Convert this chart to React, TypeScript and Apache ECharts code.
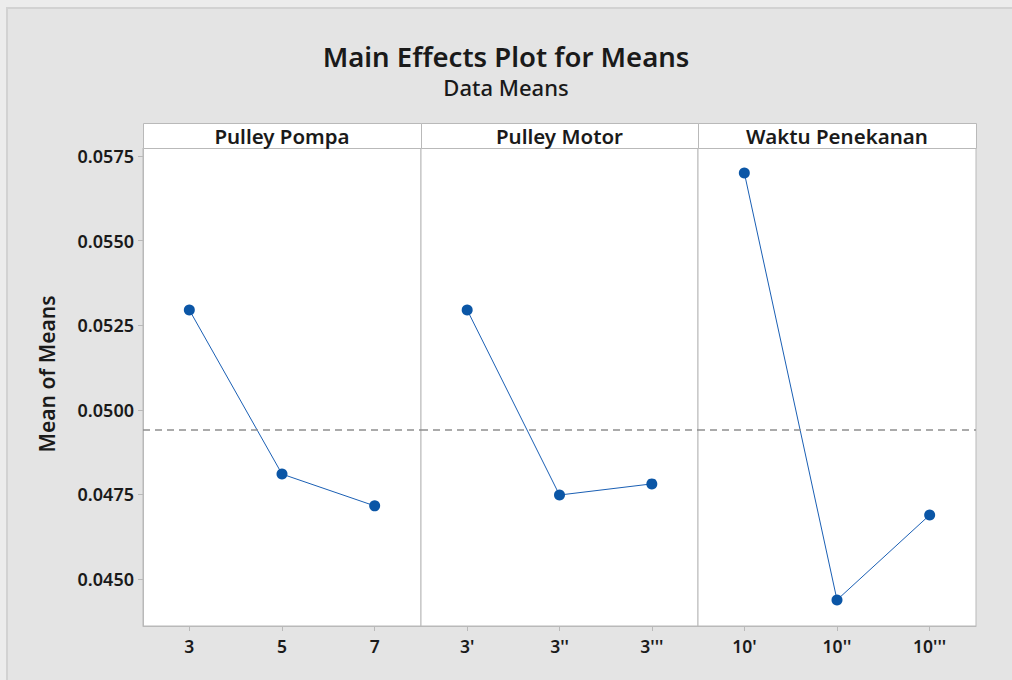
import React, { useEffect, useRef } from "react";
import * as echarts from "echarts";

const factors = ["Pulley Pompa", "Pulley Motor", "Waktu Penekanan"];
const pompaLevels = ["3", "5", "7"];
const motorLevels = ["3'", "3''", "3'''"];
const waktuLevels = ["10'", "10''", "10'''"];
const pompaMeans = [0.05295, 0.0481, 0.04716];
const motorMeans = [0.05295, 0.04748, 0.04781];
const waktuMeans = [0.057, 0.04438, 0.04689];
const yTicks = [0.045, 0.0475, 0.05, 0.0525, 0.055, 0.0575];
const yMin = 0.04361;
const yMax = 0.057736;

const FONT = "Noto Sans";
const TXT = "#1a1a1a";
const BORDER = "#b9b9b9";
const BLUE = "#0b56a6";

export default function App() {
  const ref = useRef<HTMLDivElement>(null);
  useEffect(() => {
    if (!ref.current) return;
    const chart = echarts.init(ref.current, undefined, { renderer: "svg" });
    const levels = [pompaLevels, motorLevels, waktuLevels];
    const means = [pompaMeans, motorMeans, waktuMeans];
    const all = [...pompaMeans, ...motorMeans, ...waktuMeans];
    const grand = all.reduce((a, b) => a + b, 0) / all.length;
    const panels = [
      { left: 143, width: 278 },
      { left: 421, width: 277 },
      { left: 698, width: 278 },
    ];
    const top = 148;
    const height = 478;
    const grids = panels.map((p) => ({
      left: p.left,
      width: p.width,
      top,
      height,
      show: true,
      backgroundColor: "#ffffff",
      borderColor: BORDER,
      borderWidth: 1,
    }));
    const xAxes = levels.map((lv, i) => ({
      type: "category",
      gridIndex: i,
      data: lv,
      boundaryGap: true,
      axisLine: { show: true, lineStyle: { color: BORDER } },
      axisTick: { show: true, alignWithLabel: true, length: 5, lineStyle: { color: BORDER } },
      axisLabel: { fontFamily: FONT, fontSize: 17.5, fontWeight: 600, color: TXT, margin: 11 },
    }));
    const yAxes = levels.map((_, i) => ({
      type: "value",
      gridIndex: i,
      min: yMin,
      max: yMax,
      splitLine: { show: false },
      axisLine: { show: i === 0, lineStyle: { color: BORDER } },
      axisTick: {
        show: i === 0,
        length: 5,
        lineStyle: { color: BORDER },
        customValues: yTicks,
      },
      axisLabel: {
        show: i === 0,
        customValues: yTicks,
        formatter: (v: number) => v.toFixed(4),
        fontFamily: FONT,
        fontSize: 18,
        fontWeight: 600,
        color: TXT,
        margin: 9,
      },
    }));
    const series = means.map((m, i) => ({
      type: "line",
      xAxisIndex: i,
      yAxisIndex: i,
      data: m,
      symbol: "circle",
      symbolSize: 11,
      itemStyle: { color: BLUE },
      lineStyle: { color: "#1a5fb4", width: 1 },
      markLine: {
        silent: true,
        precision: 8,
        symbol: ["none", "none"],
        label: { show: false },
        lineStyle: { color: "#8f8f8f", width: 1.5, type: [7, 5] },
        data: [{ yAxis: grand }],
      },
      z: 3,
    }));
    const graphics: any[] = [
      {
        type: "rect",
        z: -10,
        shape: { x: 7, y: 8, width: 1020, height: 700 },
        style: { fill: "#e4e4e4", stroke: "#d2d2d2", lineWidth: 2 },
      },
      {
        type: "text",
        z: 6,
        x: 47,
        y: 374,
        rotation: Math.PI / 2,
        style: {
          text: "Mean of Means",
          fontFamily: FONT,
          fontSize: 21,
          fontWeight: 600,
          fill: TXT,
          align: "center",
          verticalAlign: "middle",
        },
      },
    ];
    panels.forEach((p, i) => {
      graphics.push({
        type: "rect",
        z: 5,
        shape: { x: p.left + 0.5, y: 123.5, width: p.width, height: 25 },
        style: { fill: "#ffffff", stroke: BORDER, lineWidth: 1 },
      });
      graphics.push({
        type: "text",
        z: 6,
        x: p.left + p.width / 2,
        y: 136,
        style: {
          text: factors[i],
          fontFamily: FONT,
          fontSize: 20.5,
          fontWeight: 600,
          fill: TXT,
          align: "center",
          verticalAlign: "middle",
        },
      });
    });
    chart.setOption({
      animation: false,
      backgroundColor: "#ececec",
      title: {
        text: "Main Effects Plot for Means",
        subtext: "Data Means",
        left: "center",
        top: 37,
        itemGap: 6,
        textStyle: { fontFamily: FONT, fontSize: 27.5, fontWeight: 600, color: TXT },
        subtextStyle: { fontFamily: FONT, fontSize: 22, fontWeight: 500, color: TXT },
      },
      grid: grids,
      xAxis: xAxes,
      yAxis: yAxes,
      series,
      graphic: graphics,
    });
    return () => chart.dispose();
  }, []);
  return (
    <div
      ref={ref}
      style={{ position: "absolute", left: 0, top: 0, width: 1012, height: 680 }}
    />
  );
}
